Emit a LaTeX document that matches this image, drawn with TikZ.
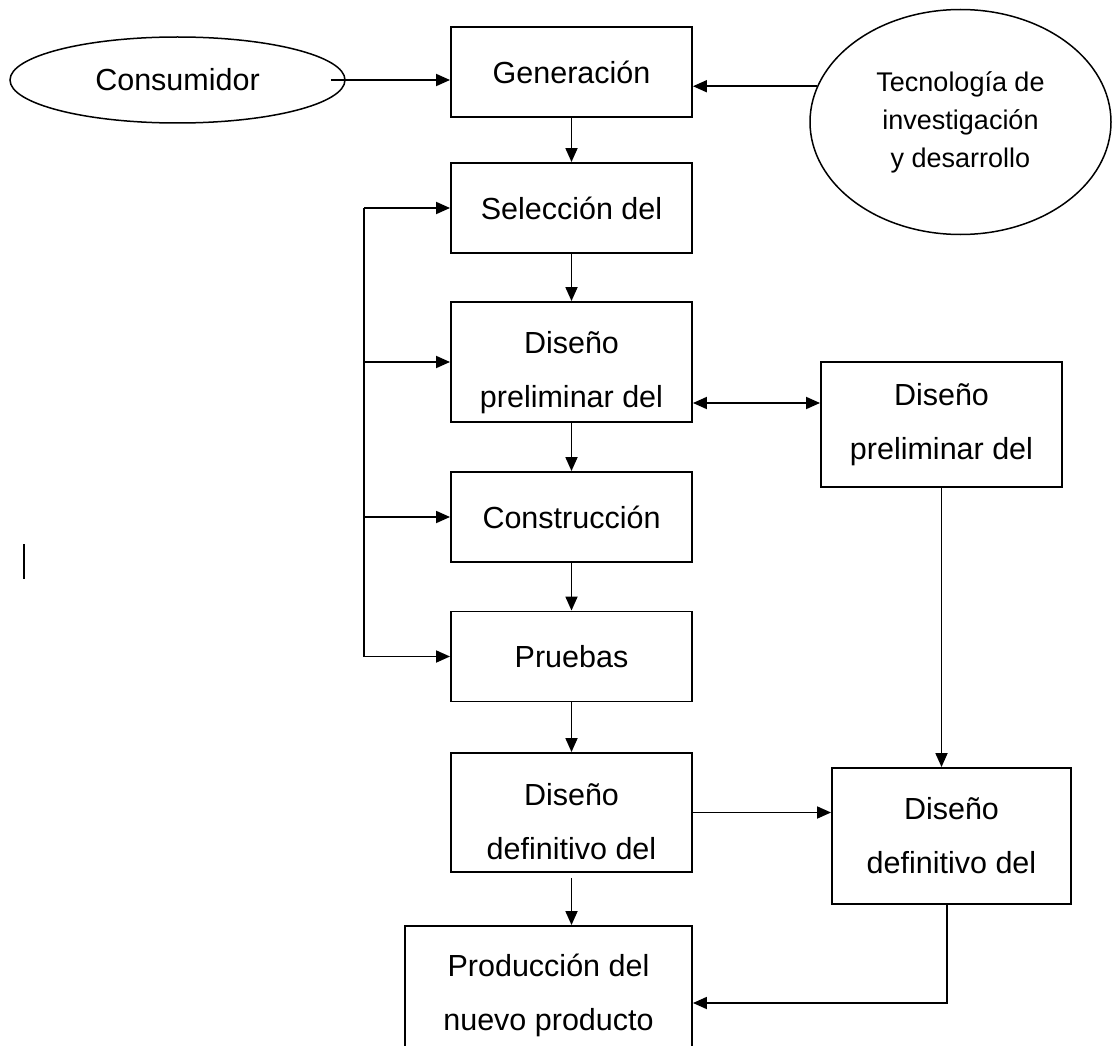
\documentclass[tikz,border=0pt]{standalone}
\usepackage{fontspec}
\setmainfont{Liberation Sans}
\usetikzlibrary{arrows.meta,shapes.geometric}
\begin{document}
\begin{tikzpicture}[x=1pt,y=-1pt,
        caja/.style={rectangle,draw,line width=1.9pt,minimum width=241pt,minimum height=90pt,inner sep=0pt,align=center,font=\fontsize{30.5}{54}\selectfont},
        elipse/.style={ellipse,draw,line width=1.5pt,inner sep=0pt,align=center},
        flecha/.style={line width=1.8pt,-{Triangle[length=14pt,width=12pt]}},
        flechas/.style={line width=1.8pt,{Triangle[length=14pt,width=12pt]}-{Triangle[length=14pt,width=12pt]}}]
        \useasboundingbox (0,0) rectangle (1112,1046);
        \clip (0,0) rectangle (1112,1046);
        \node[elipse,minimum width=335pt,minimum height=86pt,font=\fontsize{30.5}{36}\selectfont] (cons) at (177.5,80) {Consumidor};
        \node[caja] (gen) at (571.5,72) {Generación};
        \node[elipse,minimum width=301pt,minimum height=225pt,font=\fontsize{27}{38}\selectfont] (tec) at (960.5,122) {Tecnología de\\investigación\\y desarrollo};
        \node[caja] (sel) at (571.5,208) {Selección del};
        \node[caja,minimum height=120pt,text height=98pt] (dpre) at (571.5,362) {Diseño\\preliminar del};
        \node[caja] (const) at (571.5,517) {Construcción};
        \node[caja] (prue) at (571.5,656.5) {Pruebas};
        \node[caja,minimum height=119pt,text height=94pt] (ddef) at (571.5,812.5) {Diseño\\definitivo del};
        \node[caja,minimum width=287pt,minimum height=138pt] (prod) at (548.5,995) {Producción del\\nuevo producto};
        \node[caja,minimum height=125pt] (dpre2) at (941.5,424.5) {Diseño\\preliminar del};
        \node[caja,minimum width=239pt,minimum height=136pt] (ddef2) at (951.5,836) {Diseño\\definitivo del};
        \coordinate (bus) at (364,0);
        \draw[flecha] ([xshift=-15pt]cons.east) -- (cons.east -| gen.west);
        \draw[flecha] (tec.166.5) -- (tec.166.5 -| gen.east);
        \draw[flecha] (gen) -- (sel);
        \draw[flecha] (sel) -- (dpre);
        \draw[flecha] (dpre) -- (const);
        \draw[flecha] (const) -- (prue);
        \draw[flecha] (prue) -- (ddef);
        \draw[flecha] ([yshift=-5pt]ddef.south) -- (ddef.south |- prod.north);
        % retorno a las etapas
        \draw[line width=1.8pt] (sel.west -| bus) -- (prue.west -| bus);
        \foreach \n in {sel,dpre,const,prue}
            \draw[flecha] (\n.west -| bus) -- (\n.west);
        \draw[flechas] ([yshift=-41pt]dpre.east) -- ([yshift=-41pt]dpre.east -| dpre2.west);
        \draw[flecha] (dpre2.south) -- (dpre2.south |- ddef2.north);
        \draw[flecha] (ddef.east) -- (ddef.east -| ddef2.west);
        \draw[flecha] ([xshift=-4.5pt]ddef2.south) |- ([yshift=-8pt]prod.east);
        \draw[line width=2.4pt] (24,544) -- (24,579);
    \end{tikzpicture}
\end{document}
